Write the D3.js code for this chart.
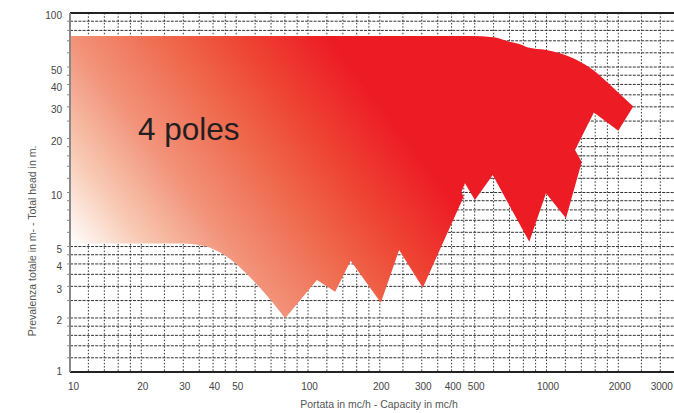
<!DOCTYPE html>
<html>
<head>
<meta charset="utf-8">
<script src="https://cdn.jsdelivr.net/npm/d3@7"></script>
<style>
  html, body { margin: 0; padding: 0; background: #fff; }
  svg { display: block; font-family: "Liberation Sans", Arial, sans-serif; }
</style>
</head>
<body>
<svg id="chart" width="674" height="413"></svg>
<script>
// ---------- data ----------
const xTickLabels = [10, 20, 30, 40, 50, 100, 200, 300, 400, 500, 1000, 2000, 3000];
const yTickLabels = [1, 2, 3, 4, 5, 10, 20, 30, 40, 50, 100];
const xGridValues = [12, 14, 16, 18, 20, 25, 30, 35, 40, 45, 50, 60, 70, 80, 90, 100,
  120, 140, 160, 180, 200, 250, 300, 350, 400, 450, 500, 600, 700, 800, 900, 1000,
  1200, 1400, 1600, 1800, 2000, 2500, 3000];
const yGridValues = [1.2, 1.4, 1.6, 1.8, 2, 2.5, 3, 3.5, 4, 4.5, 5, 6, 7, 8, 9, 10,
  12, 14, 16, 18, 20, 25, 30, 35, 40, 45, 50, 60, 70, 80, 90];

// upper envelope (capacity m3/h, head m), increasing capacity
const upperQ = [10, 480, 600, 700, 800, 830, 1000, 1140, 1340, 1570, 1850, 2310];
const upperH = [74.5, 74.5, 73.2, 69.2, 66, 64.5, 62.2, 59.6, 54.7, 48.1, 39.7, 30.1];
// right end and sawtooth lower boundary, going back to the left
const lowerQ = [2000, 1580, 1317, 1405, 1207, 995, 847, 595, 501, 455, 440, 449, 303, 241, 202, 151, 130, 109, 80.2];
const lowerH = [22.1, 27.9, 17.25, 14.8, 7.18, 9.9, 5.32, 12.5, 9.08, 11.25, 10.07, 9.44, 2.95, 4.78, 2.43, 4.17, 2.80, 3.25, 1.99];
// smooth lower-left edge, from the minimum back to the start
const leftQ = [80.2, 70, 60, 55, 50, 45, 40, 35, 30, 10];
const leftH = [1.99, 2.5, 3.15, 3.55, 4.0, 4.45, 4.85, 5.1, 5.2, 5.2];

const label = "4 poles";
const xTitle = "Portata in mc/h - Capacity in mc/h";
const yTitle = "Prevalenza totale in m- - Total head in m.";

// ---------- scales ----------
const svg = d3.select("#chart");
const x = d3.scaleLog().domain([10, 1000]).range([69.5, 546.5]);
const y = d3.scaleLog().domain([1, 100]).range([372, 13]);
const pLeft = 70, pRight = 674, pTop = y(100), pBottom = y(1);

// ---------- gradient ----------
const defs = svg.append("defs");
const gx1 = x(10), gy1 = y(5.2), glen = 330, ang = 37.4 * Math.PI / 180;
const grad = defs.append("linearGradient").attr("id", "g")
  .attr("gradientUnits", "userSpaceOnUse")
  .attr("x1", gx1).attr("y1", gy1)
  .attr("x2", gx1 + glen * Math.cos(ang)).attr("y2", gy1 - glen * Math.sin(ang));
[[0, "#ffffff"], [0.18, "#f8c9b3"], [0.38, "#f2937a"], [0.6, "#ef6a4e"], [0.79, "#ee4434"], [1, "#ed1c24"]]
  .forEach(([o, c]) => grad.append("stop").attr("offset", o).attr("stop-color", c));

// ---------- grid ----------
const grid = svg.append("g");
grid.selectAll("line.h").data(yGridValues).join("line")
  .attr("x1", pLeft).attr("x2", pRight)
  .attr("y1", d => y(d)).attr("y2", d => y(d))
  .attr("stroke", "#333").attr("stroke-width", 1).attr("stroke-dasharray", "3,1.2");
grid.selectAll("line.v").data(xGridValues).join("line")
  .attr("x1", d => x(d)).attr("x2", d => x(d))
  .attr("y1", pTop).attr("y2", pBottom)
  .attr("stroke", "#333").attr("stroke-width", 1).attr("stroke-dasharray", "1.5,1.8");

// ---------- filled envelope ----------
const up = upperQ.map((q, i) => [x(q), y(upperH[i])]);
const low = lowerQ.map((q, i) => [x(q), y(lowerH[i])]);
const lft = leftQ.map((q, i) => [x(q), y(leftH[i])]);
const smooth = d3.line().curve(d3.curveMonotoneX);
const straight = d3.line();
const pathD = smooth(up) + "L" + straight(low).slice(1) + "L" + smooth(lft).slice(1) + "Z";
svg.append("path").attr("d", pathD).attr("fill", "url(#g)");

// ---------- axes / borders ----------
svg.append("line").attr("x1", pLeft).attr("x2", pRight).attr("y1", pTop).attr("y2", pTop)
  .attr("stroke", "#222").attr("stroke-width", 2);
svg.append("line").attr("x1", pLeft).attr("x2", pRight).attr("y1", pBottom).attr("y2", pBottom)
  .attr("stroke", "#222").attr("stroke-width", 2);
svg.append("line").attr("x1", pLeft).attr("x2", pLeft).attr("y1", pTop).attr("y2", pBottom)
  .attr("stroke", "#888").attr("stroke-width", 2);
svg.selectAll("line.yt").data(yGridValues).join("line")
  .attr("x1", pLeft - 3).attr("x2", pLeft)
  .attr("y1", d => y(d)).attr("y2", d => y(d))
  .attr("stroke", "#888").attr("stroke-width", 1);

// tick labels
svg.selectAll("text.yl").data(yTickLabels).join("text")
  .attr("x", 62)
  .attr("y", d => y(d) + (d === 1 ? -1 : d === 100 ? 2 : 3))
  .attr("dy", "0.35em").attr("text-anchor", "end")
  .attr("font-size", 10).attr("fill", "#444")
  .text(d => d);
svg.selectAll("text.xl").data(xTickLabels).join("text")
  .attr("x", d => d === 10 ? x(d) - 1.5 : x(d) + 1.5)
  .attr("y", 390)
  .attr("text-anchor", d => d === 10 ? "start" : "middle")
  .attr("font-size", 10).attr("fill", "#444")
  .text(d => d);

// titles
svg.append("text").attr("x", 379).attr("y", 408).attr("text-anchor", "middle")
  .attr("font-size", 10.5).attr("fill", "#555").text(xTitle);
svg.append("text").attr("transform", "translate(36,241) rotate(-90)")
  .attr("text-anchor", "middle").attr("font-size", 10.5).attr("fill", "#555").text(yTitle);

// in-chart label
svg.append("text").attr("x", 138).attr("y", 140)
  .attr("font-size", 31.5).attr("fill", "#231f20").text(label);
</script>
</body>
</html>
